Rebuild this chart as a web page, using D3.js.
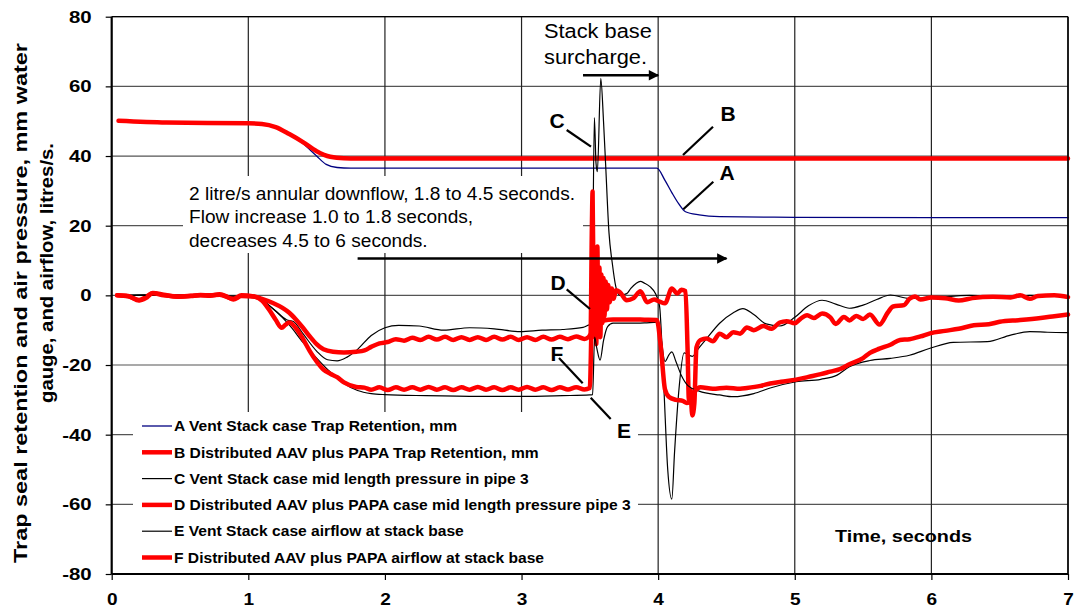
<!DOCTYPE html>
<html><head><meta charset="utf-8">
<script src="https://cdn.jsdelivr.net/npm/d3@7/dist/d3.min.js"></script>
<style>body{margin:0;background:#fff}svg{display:block}text{font-family:Arial,"Liberation Sans",sans-serif}</style>
</head><body><svg id="c" width="1075" height="611"></svg>
<script>
// ---------- data ----------
const xTicks = [0,1,2,3,4,5,6,7];
const yTicks = [-80,-60,-40,-20,0,20,40,60,80];
const legendLabels = [
  "A Vent Stack case Trap Retention, mm",
  "B Distributed AAV plus PAPA Trap Retention, mm",
  "C Vent Stack case mid length pressure in pipe 3",
  "D Distributed AAV plus PAPA case mid length pressure pipe 3",
  "E Vent Stack case airflow at stack base",
  "F Distributed AAV plus PAPA airflow at stack base"
];
// A: vent stack trap retention
const tA = [0.05,0.4,1.0,1.1,1.2,1.3,1.4,1.5,1.57,1.65,1.75,2.5,3.0,3.5,3.99,4.05,4.1,4.15,4.2,4.3,4.45,5,6,7];
const vA = [50.1,49.6,49.4,49.2,48.3,46.3,43.6,40.0,37.6,36.7,36.5,36.5,36.5,36.5,36.5,33,29.5,26.3,24,23.1,22.6,22.4,22.3,22.3];
// B: AAV + PAPA trap retention
const tB = [0.05,0.4,1.0,1.1,1.2,1.3,1.4,1.5,1.6,1.7,1.8,7];
const vB = [50.1,49.6,49.4,49.2,48.3,46.3,44.0,41.4,39.8,39.35,39.3,39.3];
// C: vent stack mid length pressure pipe 3
const tC = [0.05,0.3,0.6,0.9,1.0,1.1,1.2,1.28,1.33,1.4,1.5,1.58,1.65,1.72,1.8,1.9,2.0,2.1,2.25,2.43,2.62,2.8,2.99,3.15,3.3,3.45,3.5,3.515,3.533,3.545,3.555,3.58,3.6,3.615,3.64,3.665,3.69,3.72,3.77,3.8,3.84,3.87,3.9,3.94,3.98,4.01,4.04,4.07,4.1,4.12,4.15,4.19,4.25,4.3,4.355,4.45,4.55,4.62,4.7,4.79,4.89,5.0,5.1,5.2,5.3,5.4,5.5,5.6,5.7,5.84,6.0,6.28,6.58,6.72,7.0];
const vC = [0,0.2,0,-0.3,-0.5,-1.5,-4.5,-7,-7.5,-11,-16,-18.5,-18.8,-17.8,-15.5,-11.5,-9.3,-8.6,-8.8,-10,-9.3,-9.6,-10.4,-10,-9.8,-9.2,-8.5,-9,51,38,35.5,62.3,50,38,18,9,2.5,0,0.5,2,3.5,4,3.5,2.5,0.5,-3,-25,-50,-58.5,-45,-28,-16.5,-17.5,-15,-12.4,-8,-5,-3.8,-5.5,-8.2,-8.8,-6.3,-3,-1.4,-2.5,-3.7,-2.8,-1.2,0.1,-0.9,-0.7,0,-0.7,0,-0.2];
// D: AAV + PAPA mid length pressure pipe 3
const tD = [0.04,0.12,0.2,0.25,0.3,0.38,0.48,0.58,0.65,0.72,0.79,0.85,0.89,0.95,1.04,1.1,1.18,1.25,1.3,1.35,1.4,1.45,1.5,1.55,1.62,1.7,1.79,1.85,1.9,1.96,2.02,2.08,2.14,2.2,2.26,2.32,2.38,2.44,2.5,2.56,2.62,2.68,2.74,2.8,2.86,2.92,2.98,3.04,3.1,3.16,3.22,3.28,3.34,3.4,3.46,3.49,3.505,3.515,3.52,3.527,3.533,3.54,3.547,3.555,3.562,3.57,3.577,3.585,3.592,3.6,3.607,3.615,3.625,3.635,3.645,3.66,3.675,3.69,3.72,3.77,3.82,3.87,3.92,3.97,4.01,4.05,4.1,4.14,4.17,4.2,4.215,4.225,4.235,4.25,4.265,4.28,4.31,4.355,4.4,4.45,4.5,4.55,4.6,4.65,4.7,4.77,4.83,4.89,4.94,5.0,5.04,5.09,5.14,5.2,5.26,5.3,5.36,5.4,5.45,5.5,5.55,5.62,5.68,5.72,5.8,5.84,5.88,5.92,6.0,6.1,6.2,6.3,6.45,6.58,6.65,6.72,6.78,6.9,7.0];
const vD = [0,-0.3,-1.3,-0.5,0.7,0.2,-0.4,-0.2,0,-0.1,0.3,-0.5,-1.2,-0.2,-0.3,-1,-2.2,-3.6,-5,-7,-9.3,-11.8,-14,-15.5,-16.2,-16.4,-16.2,-15.8,-14.8,-13.8,-13.4,-12.6,-13.0,-12.2,-12.8,-11.9,-12.7,-11.9,-12.8,-12.0,-12.8,-12.0,-12.8,-11.9,-12.7,-11.9,-12.8,-12.0,-12.8,-11.9,-12.7,-11.9,-12.6,-11.8,-12.5,-12,-11,20,29.8,0,-12,10,-14,14,-10,8,-12,6,-8,5,-6,4,-4,3,-2,2,-1,1.5,0.9,-1.4,-0.8,1.2,-2.0,-1.2,-1.8,-2.3,2.0,0.5,1.6,1.2,-15,-30,-27,-34.5,-31,-15,-12.8,-12.4,-13.2,-11,-12,-10.6,-11,-9.2,-10,-8.8,-9.6,-7.8,-7.4,-8,-6.8,-5.7,-6.5,-5.2,-6.3,-8.2,-6.2,-7.2,-5.9,-6.8,-5.5,-8.4,-5,-3.2,-2.8,-1.0,-0.3,-1.2,-0.6,-0.8,-1.5,-0.8,-0.4,-0.6,0,-1.0,-0.2,0,-0.5];
// E: vent stack airflow at stack base
const tE = [0.05,0.5,1.0,1.1,1.2,1.3,1.4,1.5,1.6,1.7,1.8,1.9,2.0,2.3,2.7,3.0,3.3,3.5,3.52,3.535,3.55,3.575,3.6,3.63,3.67,3.8,3.9,4.0,4.02,4.05,4.08,4.1,4.13,4.17,4.22,4.3,4.45,4.55,4.7,4.82,5.01,5.19,5.31,5.4,5.55,5.7,5.84,5.99,6.16,6.41,6.58,6.72,6.85,7.0];
const vE = [0,0,-0.3,-1.5,-4.5,-8.5,-13.5,-18,-22,-25.3,-27.3,-28.2,-28.5,-28.8,-29,-29,-28.8,-28.6,-28.5,-12,-15,-18.6,-13,-9,-8,-8,-7.9,-7.7,-12,-19,-17,-16.2,-19,-23,-26,-27.5,-28.6,-29.1,-28.2,-26.6,-24.8,-24.1,-22.9,-20.5,-18.7,-18.1,-17.2,-15.2,-13.5,-13.3,-11.4,-10.4,-10.6,-10.7];
// F: AAV + PAPA airflow at stack base
const tF = [0.04,0.12,0.2,0.25,0.3,0.38,0.48,0.58,0.65,0.72,0.79,0.89,0.95,1.04,1.1,1.15,1.2,1.245,1.27,1.3,1.35,1.4,1.45,1.5,1.55,1.6,1.65,1.7,1.79,1.85,1.9,1.96,2.02,2.08,2.14,2.2,2.26,2.32,2.38,2.44,2.5,2.56,2.62,2.68,2.74,2.8,2.86,2.92,2.98,3.04,3.1,3.16,3.22,3.28,3.34,3.4,3.46,3.5,3.515,3.53,3.6,3.67,3.8,3.9,3.99,4.02,4.05,4.08,4.13,4.18,4.21,4.24,4.27,4.31,4.4,4.5,4.6,4.65,4.75,4.82,4.9,5.01,5.1,5.19,5.26,5.33,5.4,5.5,5.55,5.62,5.7,5.77,5.84,5.92,5.99,6.1,6.2,6.31,6.42,6.5,6.65,6.8,6.9,7.0];
const vF = [0,-0.2,-1.5,-0.8,0.6,0,-0.3,-0.1,0.1,0,0.2,-1.0,0,-0.3,-1.5,-4,-7,-9.3,-8.5,-7.8,-9.5,-12.5,-16,-19,-21.3,-22.5,-23.5,-25,-26.3,-26.5,-27.1,-26.4,-27.2,-26.4,-27.1,-26.4,-27.1,-26.3,-27.1,-26.4,-27.2,-26.4,-27.1,-26.3,-27.1,-26.4,-27.2,-26.4,-27.1,-26.3,-27.1,-26.4,-27.2,-26.4,-27.0,-26.4,-27.0,-26.6,-7.5,-8,-7.2,-6.9,-6.9,-7.0,-7.1,-15,-27,-29.2,-30,-30.3,-30.9,-30.5,-27.5,-26.4,-26.8,-26.5,-26.8,-26.6,-26,-25.3,-24.8,-24.2,-23.4,-22.6,-21.9,-21.2,-19.8,-18,-16.5,-15.3,-14.2,-12.8,-12.6,-11.8,-10.9,-10.2,-9.6,-8.6,-8.3,-7.6,-7.1,-6.5,-6.0,-5.5];

// ---------- chart ----------
const svg = d3.select('#c');
const X0 = 111.7, X1 = 1068, Y0 = 16.7, Y1 = 574;
const x = d3.scaleLinear().domain([0,7]).range([X0,X1]);
const y = d3.scaleLinear().domain([-80,80]).range([Y1,Y0]);

function stretch(sel, k){ sel.each(function(){ const w=this.getComputedTextLength(); d3.select(this).attr('textLength',w*k).attr('lengthAdjust','spacingAndGlyphs'); }); }
function fitW(sel, w){ sel.attr('textLength',w).attr('lengthAdjust','spacingAndGlyphs'); }

// grid
svg.append('g').selectAll('line').data(yTicks.filter(d=>d>-80)).join('line')
  .attr('x1',X0).attr('x2',X1).attr('y1',d=>y(d)).attr('y2',d=>y(d))
  .attr('stroke','#555').attr('stroke-width',1.2);
svg.append('g').selectAll('line').data(xTicks.filter(d=>d>0)).join('line')
  .attr('x1',d=>x(d)).attr('x2',d=>x(d)).attr('y1',Y0).attr('y2',Y1)
  .attr('stroke','#222').attr('stroke-width',1.2);

// annotation text box background
svg.append('rect').attr('x',183).attr('y',176).attr('width',400).attr('height',77).attr('fill','#fff');

// series
const series = [
  {t:tA, v:vA, color:'#000080', w:1.3},
  {t:tB, v:vB, color:'#ff0000', w:4.5},
  {t:tC, v:vC, color:'#000000', w:1.2},
  {t:tD, v:vD, color:'#ff0000', w:4.5},
  {t:tE, v:vE, color:'#000000', w:1.2},
  {t:tF, v:vF, color:'#ff0000', w:4.5}
];
const line = d3.line().x(d=>x(d[0])).y(d=>y(d[1])).curve(d3.curveMonotoneX);
svg.append('g').selectAll('path').data(series).join('path')
  .attr('d',s=>line(s.t.map((t,i)=>[t,s.v[i]])))
  .attr('fill','none').attr('stroke',s=>s.color).attr('stroke-width',s=>s.w)
  .attr('stroke-linejoin','round').attr('stroke-linecap','round');

// legend box
svg.append('rect').attr('x',133).attr('y',412).attr('width',505).attr('height',161).attr('fill','#fff');
const lg = svg.append('g').selectAll('g').data(series).join('g')
  .attr('transform',(d,i)=>`translate(0,${426+i*26.3})`);
lg.append('line').attr('x1',142).attr('x2',172).attr('y1',0).attr('y2',0)
  .attr('stroke',d=>d.color).attr('stroke-width',d=>d.w);
lg.append('text').attr('x',174).attr('y',5.2).attr('font-size',14.2).attr('font-weight','bold')
  .text((d,i)=>legendLabels[i]).call(stretch,1.1);

// frame
svg.append('line').attr('x1',X0).attr('x2',X1).attr('y1',Y0).attr('y2',Y0).attr('stroke','#000').attr('stroke-width',1.2);
svg.append('line').attr('x1',X1).attr('x2',X1).attr('y1',Y0).attr('y2',Y1).attr('stroke','#000').attr('stroke-width',1.5);

// axes
const ax = svg.append('g').attr('transform',`translate(${X0},0)`)
  .call(d3.axisLeft(y).tickValues(yTicks).tickSize(6).tickPadding(14).tickFormat(d=>String(d)));
const bx = svg.append('g').attr('transform',`translate(0,${Y1})`)
  .call(d3.axisBottom(x).tickValues(xTicks).tickSize(6).tickPadding(13).tickFormat(d=>String(d)));
[ax,bx].forEach(g=>{
  g.select('.domain').attr('stroke','#000').attr('stroke-width',2.2);
  g.selectAll('.tick line').attr('stroke','#000').attr('stroke-width',1.2);
  g.selectAll('.tick text').attr('font-size',17).attr('font-weight','bold').attr('fill','#000')
    .attr('font-family','Arial,"Liberation Sans",sans-serif');
});
ax.selectAll('.tick text').call(stretch,1.2);
bx.selectAll('.tick text').call(stretch,1.12);
bx.select('.domain').attr('d',`M${X0},0H${X1}`);
ax.select('.domain').attr('d',`M0,${Y0}V${Y1}`);

// axis titles
svg.append('text').attr('transform','translate(27,303) rotate(-90)')
  .attr('text-anchor','middle').attr('font-size',18.5).attr('font-weight','bold')
  .text('Trap seal retention and air pressure,  mm water').call(fitW,520);
svg.append('text').attr('transform','translate(53,273) rotate(-90)')
  .attr('text-anchor','middle').attr('font-size',18.5).attr('font-weight','bold')
  .text('gauge, and airflow, litres/s.').call(fitW,260);
svg.append('text').attr('x',835).attr('y',541.5)
  .attr('font-size',17).attr('font-weight','bold').text('Time, seconds').call(fitW,137);

// annotation text
['2 litre/s annular downflow, 1.8 to 4.5 seconds.','Flow increase 1.0 to 1.8 seconds,','decreases 4.5 to 6 seconds.']
  .forEach((s,i)=>svg.append('text').attr('x',189).attr('y',199.5+i*23.5).attr('font-size',17.5).text(s).call(stretch,1.09));
['Stack base','surcharge.'].forEach((s,i)=>svg.append('text').attr('x',544).attr('y',38+i*25.5)
  .attr('font-size',20).text(s).call(stretch,1.09));

// arrows
const defs = svg.append('defs');
defs.append('marker').attr('id','ah').attr('viewBox','0 0 10 10').attr('refX',9).attr('refY',5)
  .attr('markerWidth',5).attr('markerHeight',4).attr('markerUnits','strokeWidth').attr('orient','auto')
  .append('path').attr('d','M0,0L10,5L0,10Z').attr('fill','#000');
svg.append('line').attr('x1',x(1.8)).attr('x2',x(4.5)).attr('y1',258.5).attr('y2',258.5)
  .attr('stroke','#000').attr('stroke-width',2.6).attr('marker-end','url(#ah)');
svg.append('line').attr('x1',x(3.45)).attr('x2',x(4.0)).attr('y1',75.3).attr('y2',75.3)
  .attr('stroke','#000').attr('stroke-width',2.6).attr('marker-end','url(#ah)');

// series labels with leaders
const labs = [
  {s:'A', tx:727, ty:172, l:[683.3,209.3,713.3,181.7]},
  {s:'B', tx:728, ty:113, l:[683,155,713,126.7]},
  {s:'C', tx:557, ty:120, l:[566.7,130,591,146.7]},
  {s:'D', tx:558, ty:282, l:[566.7,289.3,590,309]},
  {s:'E', tx:624, ty:430, l:[590.7,397.7,610.7,419]},
  {s:'F', tx:557, ty:353, l:[559,358,582.7,383.3]}
];
labs.forEach(d=>{
  svg.append('line').attr('x1',d.l[0]).attr('y1',d.l[1]).attr('x2',d.l[2]).attr('y2',d.l[3])
    .attr('stroke','#000').attr('stroke-width',2.2);
  svg.append('text').attr('x',d.tx).attr('y',d.ty+7.5).attr('text-anchor','middle')
    .attr('font-size',21).attr('font-weight','bold').text(d.s);
});
</script></body></html>
